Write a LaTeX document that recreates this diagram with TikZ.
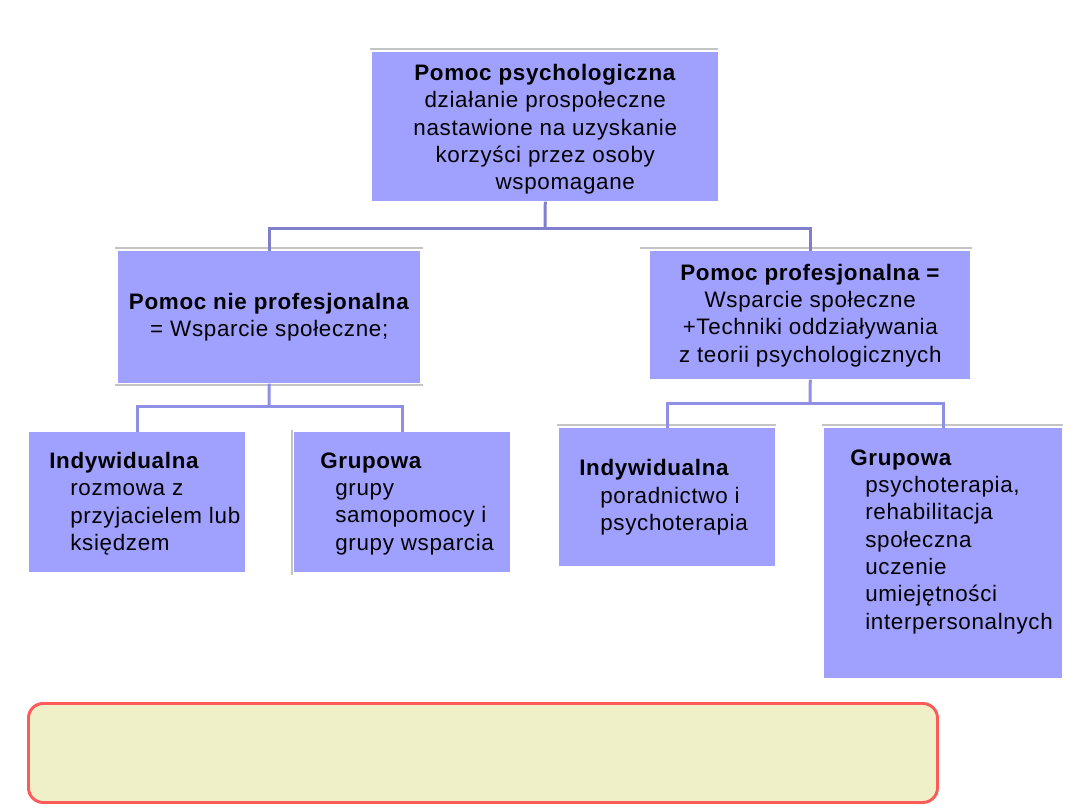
\documentclass[tikz,border=0pt]{standalone}
\usepackage{fontspec}
\setmainfont{Liberation Sans}[LetterSpace=3]
\definecolor{boxfill}{HTML}{A0A0FF}
\definecolor{conntop}{HTML}{7F7FCC}
\definecolor{connlow}{HTML}{8F8FE6}
\definecolor{edgegray}{HTML}{C4C4C4}
\definecolor{notefill}{HTML}{F0F0C8}
\definecolor{noteline}{HTML}{FF5A5A}
\begin{document}
\begin{tikzpicture}[x=0.75pt,y=-0.75pt,
  bluebox/.style={rectangle, fill=boxfill, draw=none, inner sep=0pt, anchor=north west},
  boxtext/.style={inner sep=0pt, font=\fontsize{16.8pt}{20.5pt}\selectfont},
  conn/.style={line width=2.25pt, line join=miter},
  edge/.style={draw=edgegray, line width=0.8pt}]
\useasboundingbox (0,0) rectangle (1080,810);
% faint edge lines
\draw[edge] (370,49) -- (718,49);
\draw[edge] (115,248) -- (423,248);
\draw[edge] (115,385) -- (423,385);
\draw[edge] (640,248) -- (972,248);
\draw[edge] (557,425) -- (776,425);
\draw[edge] (822,425) -- (1063,425);
\draw[edge] (292,430) -- (292,575);
% boxes
\node[bluebox, minimum width=259.5pt, minimum height=111.75pt] (b0) at (372,52) {};
\node[bluebox, minimum width=226.5pt, minimum height=99pt] (b1) at (118,251) {};
\node[bluebox, minimum width=240pt, minimum height=96pt] (b2) at (650,251) {};
\node[bluebox, minimum width=162pt, minimum height=105pt] (b3) at (29,432) {};
\node[bluebox, minimum width=162pt, minimum height=105pt] (b4) at (294,432) {};
\node[bluebox, minimum width=162pt, minimum height=103.5pt] (b5) at (559,428) {};
\node[bluebox, minimum width=178.5pt, minimum height=187.5pt] (b6) at (824,428) {};
% texts
\node[boxtext, align=center, yshift=-2pt] (t0) at (b0.center) {\textbf{Pomoc psychologiczna}\\działanie prospołeczne\\nastawione na uzyskanie\\korzyści przez osoby\\\hspace*{30pt}wspomagane};
\node[boxtext, align=center] (t1) at (b1.center) {\textbf{Pomoc nie profesjonalna}\\= Wsparcie społeczne;};
\node[boxtext, align=center] (t2) at (b2.center) {\textbf{Pomoc profesjonalna =}\\Wsparcie społeczne\\+Techniki oddziaływania\\z teorii psychologicznych};
\node[boxtext, align=left, anchor=west, xshift=15pt, yshift=-1pt] (t3) at (b3.west) {\textbf{Indywidualna}\\\hspace*{15.75pt}rozmowa z\\\hspace*{15.75pt}przyjacielem lub\\\hspace*{15.75pt}księdzem};
\node[boxtext, align=left, anchor=west, xshift=19.5pt, yshift=-1pt] (t4) at (b4.west) {\textbf{Grupowa}\\\hspace*{11.25pt}grupy\\\hspace*{11.25pt}samopomocy i\\\hspace*{11.25pt}grupy wsparcia};
\node[boxtext, align=left, anchor=west, xshift=15pt] (t5) at (b5.west) {\textbf{Indywidualna}\\\hspace*{15.75pt}poradnictwo i\\\hspace*{15.75pt}psychoterapia};
\node[boxtext, align=left, anchor=west, xshift=19.5pt, yshift=8.6pt] (t6) at (b6.west) {\textbf{Grupowa}\\\hspace*{11.25pt}psychoterapia,\\\hspace*{11.25pt}rehabilitacja\\\hspace*{11.25pt}społeczna\\\hspace*{11.25pt}uczenie\\\hspace*{11.25pt}umiejętności\\\hspace*{11.25pt}interpersonalnych};
% junction coordinates
\coordinate (j0) at (545,228);
\coordinate (j1) at (269,406);
\coordinate (j2) at (810,403);
% connectors
\draw[conn, draw=conntop] (b0.south) -- (j0);
\draw[conn, draw=conntop] (b1.north) |- (j0) -| (b2.north);
\draw[conn, draw=connlow] (b1.south) -- (j1);
\draw[conn, draw=connlow] ([xshift=-81pt]b3.north east) |- (j1) -| ([xshift=81pt]b4.north west);
\draw[conn, draw=connlow] (b2.south) -- (j2);
\draw[conn, draw=connlow] ([xshift=81pt]b5.north west) |- (j2) -| ([xshift=89.25pt]b6.north west);
% note box
\node[rectangle, rounded corners=11pt, fill=notefill, draw=noteline, line width=2.2pt,
      minimum width=681.75pt, minimum height=74.25pt, anchor=north west, inner sep=0pt] (note) at (27,702) {};
\end{tikzpicture}
\end{document}
